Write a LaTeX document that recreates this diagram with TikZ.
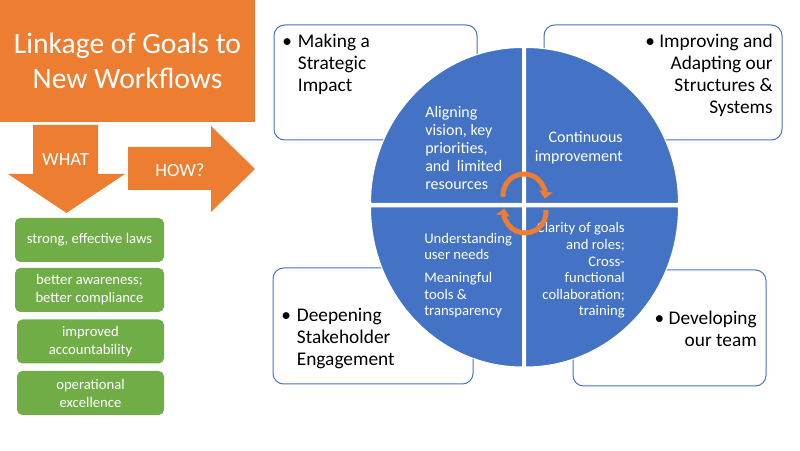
\documentclass[tikz,border=0pt]{standalone}
\usepackage{fontspec}
\setmainfont{Carlito}
\usetikzlibrary{arrows.meta}
\definecolor{orangeA}{HTML}{ED7D31}
\definecolor{greenA}{HTML}{70AD47}
\definecolor{blueA}{HTML}{4472C4}
\begin{document}
\begin{tikzpicture}[x=0.75pt, y=0.75pt,
    G/.style={rectangle, rounded corners=4pt, fill=greenA, text=white, align=center, minimum height=33pt, inner sep=0pt, font=\fontsize{11}{13.5}\selectfont},
    P/.style={draw=blueA, line width=0.75pt, fill=white, rounded corners=8pt},
    PT/.style={inner sep=0pt, font=\fontsize{14.5}{16.5}\selectfont},
    Q/.style={fill=blueA, draw=white, line width=0.75pt},
    T/.style={inner sep=0pt, text=white},
    R/.style={draw=orangeA, line width=3.75pt, -{Triangle[width=10pt, length=5.5pt]}}]

    \useasboundingbox (0,0) rectangle (800,450);
    \fill[white] (0,0) rectangle (800,450);

    % Titolo
    \fill[orangeA] (0,450) rectangle (255,328);
    \node[text=white, align=center, inner sep=0pt, font=\fontsize{22.2}{26.5}\selectfont] (title) at (127.5,389) {Linkage of Goals to\\New Workflows};

    % Frecce WHAT / HOW?
    \fill[orangeA] (33,325) -- (98,325) -- (98,276) -- (125,276) -- (66.5,237) -- (8,276) -- (33,276) -- cycle;
    \node[text=white, font=\fontsize{14}{16}\selectfont] (what) at (65.5,290) {WHAT};
    \fill[orangeA] (128,303) -- (211,303) -- (211,324) -- (255,281) -- (211,238) -- (211,260) -- (128,260) -- cycle;
    \node[text=white, font=\fontsize{14}{16}\selectfont] (how) at (180,280) {HOW?};

    % Obiettivi
    \foreach \x/\y/\w/\txt [count=\i] in {89.5/210/111.75/{strong, effective laws},
        89.5/160/111.75/{better awareness;\\better compliance},
        90.5/108.5/110.25/{improved\\accountability},
        90.5/57/110.25/{operational\\excellence}} {
      \node[G, minimum width=\w pt] (g\i) at (\x,\y) {\txt};
    }

    % Riquadri
    \draw[P] (274,425) rectangle (477,310);
    \draw[P] (544,425) rectangle (782,310);
    \draw[P] (273,182) rectangle (473,66);
    \draw[P] (573,180) rectangle (766,64);

    \node[PT, anchor=west] (ptl) at (282,385) {\begin{tabular}{@{}l@{\hspace{4.5pt}}l@{}}\textbullet&Making a\\&Strategic\\&Impact\end{tabular}};
    \node[PT, anchor=east, align=right] (ptr) at (773,374.5) {\textbullet\ Improving and\\Adapting our\\Structures \&\\Systems};
    \node[PT, anchor=west] (pbl) at (281,111) {\begin{tabular}{@{}l@{\hspace{4.5pt}}l@{}}\textbullet&Deepening\\&Stakeholder\\&Engagement\end{tabular}};
    \node[PT, anchor=east, align=right] (pbr) at (757,121) {\textbullet\ Developing\\our team};

    % Cerchio a quadranti
    \path[Q] (522.5,246.5) -- ++(-152,0) arc[start angle=180, end angle=90, x radius=152, y radius=156] -- cycle;
    \path[Q] (525.5,246.5) -- ++(0,156) arc[start angle=90, end angle=0, x radius=153, y radius=156] -- cycle;
    \path[Q] (522.5,243) -- ++(-152,0) arc[start angle=180, end angle=270, x radius=152, y radius=160] -- cycle;
    \path[Q] (525.5,243) -- ++(0,-160) arc[start angle=270, end angle=360, x radius=153, y radius=160] -- cycle;

    \node[T, anchor=west, align=left, font=\fontsize{12}{13.5}\selectfont] (qtl) at (425,301.5) {Aligning\\vision, key\\priorities,\\and\ \ limited\\resources};
    \node[T, anchor=east, align=right, font=\fontsize{12}{14}\selectfont] (qtr) at (623,302.5) {Continuous\\improvement};
    \node[T, anchor=west, align=left, font=\fontsize{11}{12.4}\selectfont] (qbl) at (424,174.5) {Understanding\\user needs\\[5pt]Meaningful\\tools \&\\transparency};
    \node[T, anchor=east, align=right, font=\fontsize{11}{12.4}\selectfont] (qbr) at (625,179.5) {Clarity of goals\\and roles;\\Cross-\\functional\\collaboration;\\training};

    % Ciclo
    \draw[R] ([shift={(185:21)}]524,255) arc[start angle=185, end angle=-10, radius=21];
    \draw[R] ([shift={(5:21)}]525,238) arc[start angle=5, end angle=-190, radius=21];
  \end{tikzpicture}
\end{document}
